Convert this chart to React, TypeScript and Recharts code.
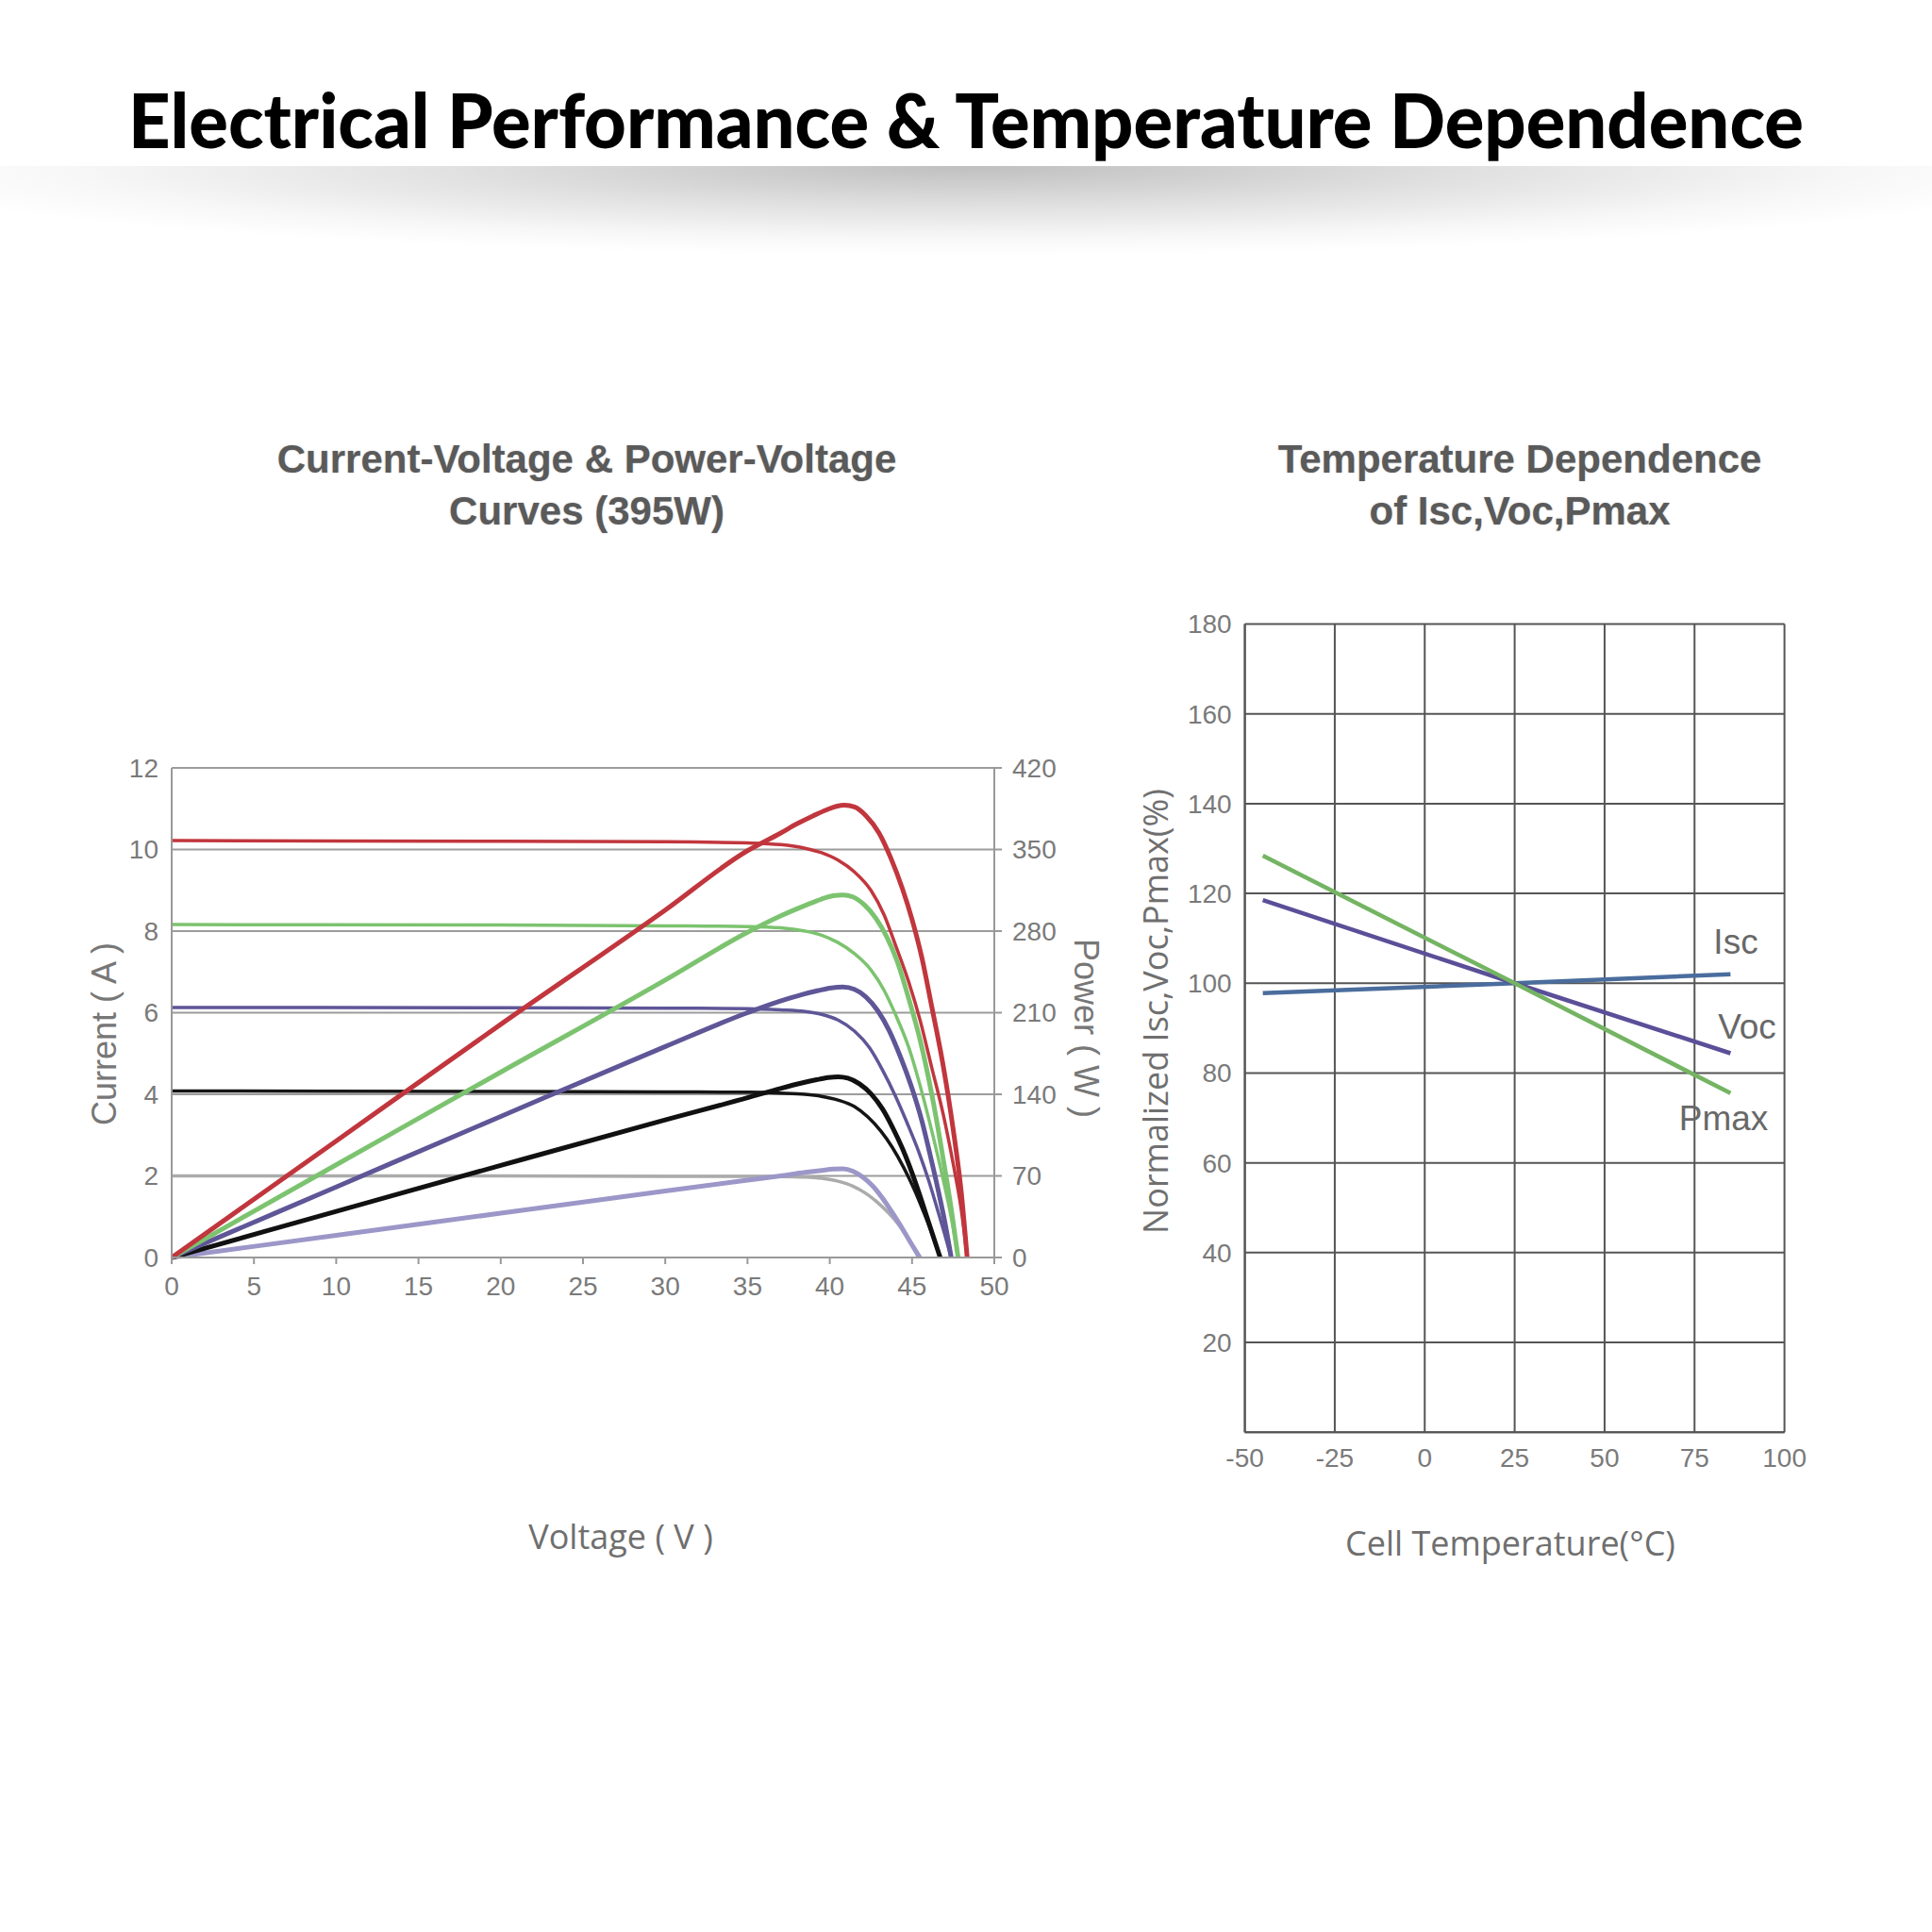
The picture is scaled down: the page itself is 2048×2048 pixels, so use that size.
import React from 'react';
import { LineChart, Line, XAxis, YAxis, CartesianGrid } from 'recharts';

// ---------- Left chart: I-V and P-V curves ----------
const VOLT_TICKS = [0, 5, 10, 15, 20, 25, 30, 35, 40, 45, 50];
const CURRENT_TICKS = [0, 2, 4, 6, 8, 10, 12];
const POWER_TICKS = [0, 70, 140, 210, 280, 350, 420];

// red (1000 W/m2)
const redIV_V = [0, 20, 30, 35, 37, 38.5, 39.5, 40.5, 41.5, 42.5, 43.3, 44.0, 44.8, 45.5, 46.2, 46.9, 47.5, 48.0, 48.35];
const redIV_I = [10.22, 10.2, 10.19, 10.16, 10.12, 10.03, 9.92, 9.74, 9.45, 9.0, 8.4, 7.65, 6.75, 5.8, 4.65, 3.5, 2.3, 1.15, 0];
const redPV_V = [0, 10, 20, 30, 35, 37, 38, 39, 39.8, 40.4, 40.9, 41.5, 42.2, 43.0, 43.7, 44.4, 45.0, 45.6, 46.2, 46.9, 47.5, 48.0, 48.35];
const redPV_P = [0, 100, 200, 298, 349, 364, 372, 379, 384, 387, 388, 386.5, 379, 364, 343, 317, 290, 257, 215, 164, 110, 55, 0];

// green (800 W/m2)
const greenIV_V = [0, 20, 30, 35, 37, 38.5, 39.5, 40.5, 41.5, 42.5, 43.3, 44.0, 44.8, 45.5, 46.2, 46.9, 47.4, 47.8];
const greenIV_I = [8.16, 8.15, 8.13, 8.11, 8.08, 8.0, 7.9, 7.72, 7.45, 7.05, 6.55, 5.95, 5.15, 4.2, 3.1, 1.9, 0.95, 0];
const greenPV_V = [0, 10, 20, 30, 35, 37, 38.5, 39.5, 40.2, 40.8, 41.4, 42.1, 42.8, 43.5, 44.2, 44.8, 45.5, 46.2, 46.9, 47.4, 47.8];
const greenPV_P = [0, 79.5, 159, 238, 279, 293, 302, 307.5, 310.3, 311, 309.3, 302.5, 291, 274, 250, 222, 186, 140, 84, 40, 0];

// purple (600 W/m2)
const purpleIV_V = [0, 20, 30, 35, 37, 38.5, 39.5, 40.5, 41.5, 42.4, 43.2, 44.0, 44.7, 45.4, 46.0, 46.6, 47.0, 47.38];
const purpleIV_I = [6.13, 6.12, 6.11, 6.1, 6.07, 6.03, 5.96, 5.82, 5.55, 5.15, 4.6, 3.95, 3.3, 2.6, 1.9, 1.1, 0.55, 0];
const purplePV_V = [0, 10, 20, 30, 35, 37, 38.3, 39.3, 40.1, 40.8, 41.5, 42.2, 42.9, 43.6, 44.3, 45.0, 45.6, 46.1, 46.6, 47.0, 47.38];
const purplePV_P = [0, 60.5, 121, 181, 210, 220, 225.5, 229, 231.3, 232, 230, 223.5, 212, 195, 172, 145, 117, 88, 57, 30, 0];

// black (400 W/m2)
const blackIV_V = [0, 20, 30, 35, 37, 38.5, 39.5, 40.5, 41.5, 42.3, 43.1, 43.8, 44.5, 45.1, 45.7, 46.2, 46.71];
const blackIV_I = [4.08, 4.07, 4.06, 4.05, 4.03, 4.0, 3.95, 3.86, 3.7, 3.45, 3.1, 2.7, 2.2, 1.7, 1.12, 0.6, 0];
const blackPV_V = [0, 10, 20, 30, 35, 37, 38.3, 39.2, 39.9, 40.5, 41.1, 41.8, 42.5, 43.2, 43.8, 44.4, 45.0, 45.6, 46.15, 46.71];
const blackPV_P = [0, 39.5, 79, 118, 137, 145, 149.7, 152.5, 154.3, 155, 153.8, 149, 140.5, 127.5, 112, 94, 72.5, 48, 24, 0];

// light (200 W/m2)
const lightIV_V = [0, 20, 30, 35, 37, 38.5, 39.5, 40.5, 41.4, 42.2, 42.9, 43.6, 44.2, 44.8, 45.4];
const lightIV_I = [2.0, 2.0, 1.99, 1.99, 1.985, 1.97, 1.94, 1.87, 1.75, 1.57, 1.35, 1.08, 0.8, 0.45, 0];
const lightPV_V = [0, 10, 20, 30, 35, 37, 38.5, 39.5, 40.2, 40.8, 41.4, 42.0, 42.6, 43.2, 43.8, 44.4, 44.95, 45.47];
const lightPV_P = [0, 19, 38, 57, 66.3, 70, 73, 74.7, 75.8, 76, 74, 69, 61.5, 51, 38.5, 25, 12, 0];

// ---------- Right chart: temperature dependence ----------
const TEMP_TICKS = [-50, -25, 0, 25, 50, 75, 100];
const NORM_TICKS = [20, 40, 60, 80, 100, 120, 140, 160, 180];
const TEMP_POINTS = [-45, 25, 85];
const ISC_VALUES = [97.8, 100, 102];
const VOC_VALUES = [118.5, 100, 84.4];
const PMAX_VALUES = [128.4, 100, 75.5];

const zip = (xs: number[], ys: number[], yk: string) => xs.map((x, i) => ({ v: x, [yk]: ys[i] }));

const ivSeries = [
  { name: 'I-200', data: zip(lightIV_V, lightIV_I, 'i'), color: '#ababab' },
  { name: 'I-400', data: zip(blackIV_V, blackIV_I, 'i'), color: '#151515' },
  { name: 'I-600', data: zip(purpleIV_V, purpleIV_I, 'i'), color: '#5e5697' },
  { name: 'I-800', data: zip(greenIV_V, greenIV_I, 'i'), color: '#7cc36f' },
  { name: 'I-1000', data: zip(redIV_V, redIV_I, 'i'), color: '#c1363d' },
];
const pvSeries = [
  { name: 'P-200', data: zip(lightPV_V, lightPV_P, 'p'), color: '#9c97c8' },
  { name: 'P-400', data: zip(blackPV_V, blackPV_P, 'p'), color: '#111111' },
  { name: 'P-600', data: zip(purplePV_V, purplePV_P, 'p'), color: '#5e5697' },
  { name: 'P-800', data: zip(greenPV_V, greenPV_P, 'p'), color: '#7cc36f' },
  { name: 'P-1000', data: zip(redPV_V, redPV_P, 'p'), color: '#c1363d' },
];

const tempData = TEMP_POINTS.map((t, i) => ({
  t,
  isc: ISC_VALUES[i],
  voc: VOC_VALUES[i],
  pmax: PMAX_VALUES[i],
}));

const tickStyle = { fill: '#7a7a7a', fontSize: 28, fontFamily: '"Liberation Sans", Arial, sans-serif' };

const abs = (left: number, top: number, extra: React.CSSProperties = {}): React.CSSProperties => ({
  position: 'absolute',
  left,
  top,
  ...extra,
});

export default function App() {
  return (
    <div
      style={{
        position: 'absolute',
        left: 0,
        top: 0,
        width: 2048,
        height: 2048,
        background: '#ffffff',
        overflow: 'hidden',
        fontFamily: '"Liberation Sans", Arial, sans-serif',
      }}
    >
      {/* main title */}
      <svg width={2048} height={180} style={abs(0, 0)}>
        <text
          x={1024}
          y={157}
          textAnchor="middle"
          fontFamily="Lato, 'Open Sans', sans-serif"
          fontWeight={900}
          fontSize={80}
          textLength={1776}
          lengthAdjust="spacingAndGlyphs"
          fill="#000"
        >
          Electrical Performance &amp; Temperature Dependence
        </text>
      </svg>
      {/* shadow band */}
      <div
        style={abs(0, 176, {
          width: 2048,
          height: 95,
          background:
            'radial-gradient(ellipse 58% 100% at 50% 0%, rgba(0,0,0,0.25) 0%, rgba(0,0,0,0.12) 45%, rgba(0,0,0,0.03) 80%, rgba(0,0,0,0) 100%)',
        })}
      />

      {/* chart titles */}
      <div
        style={abs(222, 459, {
          width: 800,
          textAlign: 'center',
          fontSize: 42,
          fontWeight: 700,
          lineHeight: '55px',
          color: '#5a5a5a',
          textShadow: '0 0 2px rgba(0,0,0,0.25)',
        })}
      >
        Current-Voltage &amp; Power-Voltage
        <br />
        Curves (395W)
      </div>
      <div
        style={abs(1211, 459, {
          width: 800,
          textAlign: 'center',
          fontSize: 42,
          fontWeight: 700,
          lineHeight: '55px',
          color: '#5a5a5a',
          textShadow: '0 0 2px rgba(0,0,0,0.25)',
        })}
      >
        Temperature Dependence
        <br />
        of Isc,Voc,Pmax
      </div>

      {/* left chart */}
      <div style={abs(0, 700)}>
        <LineChart width={1250} height={760} margin={{ top: 114, left: 122, right: 96, bottom: 77 }}>
          <CartesianGrid yAxisId="left" vertical={false} stroke="#9c9c9c" strokeWidth={2} />
          <XAxis
            type="number"
            dataKey="v"
            domain={[0, 50]}
            ticks={VOLT_TICKS}
            height={50}
            tick={tickStyle}
            tickSize={7}
            tickMargin={13}
            axisLine={{ stroke: '#999', strokeWidth: 2 }}
            tickLine={{ stroke: '#999', strokeWidth: 2 }}
            allowDataOverflow
          />
          <YAxis
            yAxisId="left"
            type="number"
            domain={[0, 12]}
            ticks={CURRENT_TICKS}
            width={60}
            tick={tickStyle}
            tickSize={0}
            tickMargin={14}
            tickLine={false}
            axisLine={{ stroke: '#999', strokeWidth: 2 }}
          />
          <YAxis
            yAxisId="right"
            orientation="right"
            type="number"
            domain={[0, 420]}
            ticks={POWER_TICKS}
            width={100}
            tick={tickStyle}
            tickSize={8}
            tickMargin={11}
            tickLine={{ stroke: '#999', strokeWidth: 2 }}
            axisLine={{ stroke: '#999', strokeWidth: 2 }}
          />
          {ivSeries.map((s) => (
            <Line
              key={s.name}
              yAxisId="left"
              data={s.data}
              dataKey="i"
              type="monotone"
              stroke={s.color}
              strokeWidth={3.5}
              dot={false}
              activeDot={false}
              isAnimationActive={false}
            />
          ))}
          {pvSeries.map((s) => (
            <Line
              key={s.name}
              yAxisId="right"
              data={s.data}
              dataKey="p"
              type="monotone"
              stroke={s.color}
              strokeWidth={5}
              dot={false}
              activeDot={false}
              isAnimationActive={false}
            />
          ))}
        </LineChart>
      </div>

      {/* right chart */}
      <div style={abs(1150, 600)}>
        <LineChart
          width={880}
          height={1000}
          data={tempData}
          margin={{ top: 61.5, left: 69.6, right: 138.4, bottom: 31.8 }}
        >
          <CartesianGrid stroke="#555" strokeWidth={2} />
          <XAxis
            type="number"
            dataKey="t"
            domain={[-50, 100]}
            ticks={TEMP_TICKS}
            height={50}
            tick={tickStyle}
            tickSize={0}
            tickMargin={17}
            tickLine={false}
            axisLine={{ stroke: '#555', strokeWidth: 2 }}
          />
          <YAxis
            type="number"
            domain={[0, 180]}
            ticks={NORM_TICKS}
            width={100}
            tick={tickStyle}
            tickSize={0}
            tickMargin={14}
            tickLine={false}
            axisLine={{ stroke: '#555', strokeWidth: 2 }}
          />
          <Line dataKey="isc" type="linear" stroke="#4a6d9d" strokeWidth={4.5} dot={false} activeDot={false} isAnimationActive={false} />
          <Line dataKey="voc" type="linear" stroke="#5a4f98" strokeWidth={4.5} dot={false} activeDot={false} isAnimationActive={false} />
          <Line dataKey="pmax" type="linear" stroke="#74b462" strokeWidth={4.5} dot={false} activeDot={false} isAnimationActive={false} />
        </LineChart>
      </div>

      {/* series labels in right chart */}
      <div style={abs(1790, 975, { width: 100, textAlign: 'center', fontSize: 37, color: '#686868', lineHeight: '48px' })}>Isc</div>
      <div style={abs(1802, 1065, { width: 100, textAlign: 'center', fontSize: 37, color: '#686868', lineHeight: '48px' })}>Voc</div>
      <div style={abs(1767, 1162, { width: 120, textAlign: 'center', fontSize: 37, color: '#686868', lineHeight: '48px' })}>Pmax</div>

      {/* axis titles */}
      <div
        style={abs(111 - 150, 1096 - 24, {
          width: 300,
          height: 48,
          lineHeight: '48px',
          textAlign: 'center',
          fontSize: 36,
          color: '#777',
          transform: 'rotate(-90deg)',
        })}
      >
        Current ( A )
      </div>
      <div
        style={abs(1151 - 150, 1090 - 24, {
          width: 300,
          height: 48,
          lineHeight: '48px',
          textAlign: 'center',
          fontSize: 36,
          color: '#777',
          transform: 'rotate(90deg)',
        })}
      >
        Power ( W )
      </div>
      <div
        style={abs(658 - 200, 1629 - 24, {
          width: 400,
          height: 48,
          lineHeight: '48px',
          textAlign: 'center',
          fontSize: 36,
          color: '#6f6f6f',
          fontFamily: '"Open Sans", sans-serif',
        })}
      >
        Voltage ( V )
      </div>
      <div
        style={abs(1225 - 300, 1072 - 24, {
          width: 600,
          height: 48,
          lineHeight: '48px',
          textAlign: 'center',
          fontSize: 36,
          color: '#6f6f6f',
          fontFamily: '"Open Sans", sans-serif',
          transform: 'rotate(-90deg)',
        })}
      >
        Normalized Isc,Voc,Pmax(%)
      </div>
      <div
        style={abs(1601 - 250, 1636 - 24, {
          width: 500,
          height: 48,
          lineHeight: '48px',
          textAlign: 'center',
          fontSize: 36,
          color: '#6f6f6f',
          fontFamily: '"Open Sans", sans-serif',
        })}
      >
        Cell Temperature(°C)
      </div>
    </div>
  );
}
